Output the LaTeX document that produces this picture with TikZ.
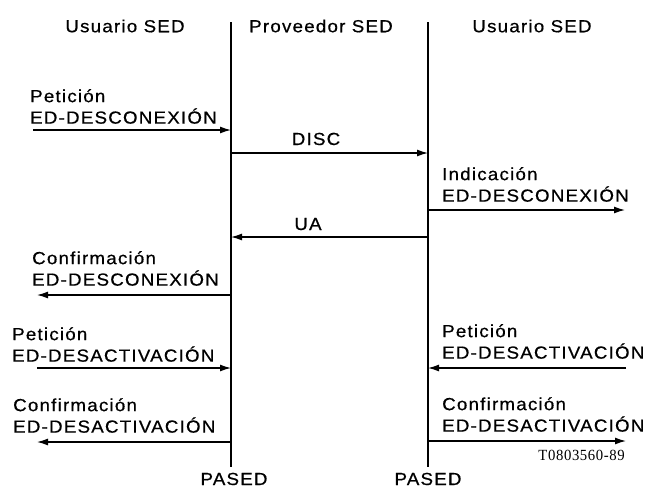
\documentclass[tikz,border=0pt]{standalone}
\usepackage{fontspec}
\setmainfont{Liberation Sans}[LetterSpace=7, FakeStretch=1.07, FakeBold=0.6]
\newfontfamily\reffont{Liberation Serif}[LetterSpace=4, FakeStretch=0.95]
\usetikzlibrary{arrows.meta}
\tikzset{head/.style={font=\fontsize{17.5}{21}\selectfont, inner sep=0pt},
lab/.style={font=\fontsize{17.5}{21.5}\selectfont, align=left, anchor=south west, inner sep=0pt},
msg/.style={line width=1.3pt, -{Latex[length=11pt,width=7pt]}},
life/.style={line width=1.6pt}}

\begin{document}
\begin{tikzpicture}[x=1pt, y=-1pt]
        \useasboundingbox (0,0) rectangle (659,490);

        % headers and lifelines
        \node[head] (u1) at (125,26) {Usuario SED};
        \node[head] (pv) at (321,26) {Proveedor SED};
        \node[head] (u2) at (532,26) {Usuario SED};
        \node[head, anchor=base] (pa) at (234,485) {PASED};
        \node[head, anchor=base] (pb) at (428,485) {PASED};
        \coordinate (lt) at (231,22);
        \coordinate (lb) at (231,467);
        \coordinate (rt) at (428,22);
        \coordinate (rb) at (428,467);
        \draw[life] (lt) -- (lb);
        \draw[life] (rt) -- (rb);

        % points on the lifelines
        \coordinate (l1) at (231,130);
        \coordinate (l2) at (231,153);
        \coordinate (l3) at (231,237);
        \coordinate (l4) at (231,295);
        \coordinate (l5) at (231,368);
        \coordinate (l6) at (231,442);
        \coordinate (r2) at (428,153);
        \coordinate (r3) at (428,210);
        \coordinate (r4) at (428,237);
        \coordinate (r5) at (428,368);
        \coordinate (r6) at (428,441);

        % free ends
        \coordinate (e1) at (33,130);
        \coordinate (e4) at (37,295);
        \coordinate (e5) at (37,368);
        \coordinate (e6) at (37,442);
        \coordinate (f3) at (625,210);
        \coordinate (f5) at (626,368);
        \coordinate (f6) at (626,441);

        \draw[msg] (e1) -- (l1);
        \draw[msg] (l2) -- (r2);
        \draw[msg] (r3) -- (f3);
        \draw[msg] (r4) -- (l3);
        \draw[msg] (l4) -- (e4);
        \draw[msg] (e5) -- (l5);
        \draw[msg] (l6) -- (e6);
        \draw[msg] (f5) -- (r5);
        \draw[msg] (r6) -- (f6);

        % labels
        \node[lab] (pdesc) at (30,124) {Petición\\ED-DESCONEXIÓN};
        \node[head, anchor=base] (disc) at (316,145) {DISC};
        \node[lab] (idesc) at (442,202) {Indicación\\ED-DESCONEXIÓN};
        \node[head, anchor=base] (ua) at (308,230) {UA};
        \node[lab] (cdesc) at (32,286) {Confirmación\\ED-DESCONEXIÓN};
        \node[lab] (pdes1) at (12,362) {Petición\\ED-DESACTIVACIÓN};
        \node[lab] (cdes1) at (13,433) {Confirmación\\ED-DESACTIVACIÓN};
        \node[lab] (pdes2) at (442,359) {Petición\\ED-DESACTIVACIÓN};
        \node[lab] (cdes2) at (442,432) {Confirmación\\ED-DESACTIVACIÓN};
        \node[anchor=base east, inner sep=0pt, font=\reffont\fontsize{15.5}{17}\selectfont] (ref) at (625,460) {T0803560-89};
\end{tikzpicture}
\end{document}
